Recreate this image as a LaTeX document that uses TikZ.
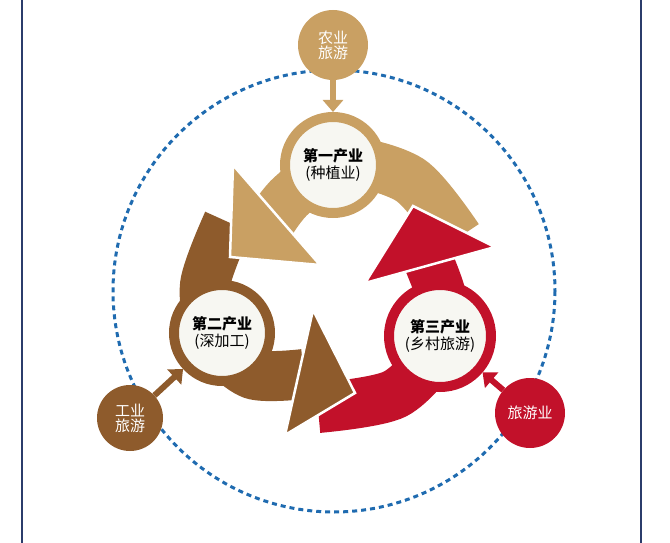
\documentclass[tikz,border=0pt]{standalone}
\usepackage{fontspec}
\setmainfont{Noto Sans CJK SC}
\usetikzlibrary{arrows.meta}
\definecolor{tan}{HTML}{C9A063}
\definecolor{brn}{HTML}{8E5B2C}
\definecolor{rd}{HTML}{C2112A}
\definecolor{dashblue}{HTML}{1F6BB0}
\definecolor{frameblue}{HTML}{2B3C6B}
\definecolor{core}{RGB}{247,247,242}
\begin{document}
\begin{tikzpicture}[x=1pt,y=-1pt,
    big/.style = {draw=#1, circle, line width=10pt, fill=core, text=black, minimum size=96pt, align=center, font=\bfseries\fontsize{15}{18}\selectfont},
    small/.style = {circle, minimum size=70pt, align=center, text=white, font=\fontsize{15}{18}\selectfont},
    band/.style = {line width=50pt},
    head/.style = {draw=white, line width=2.5pt, line join=miter},
    feed/.style = {line width=6pt, -{Triangle[length=12pt,width=20pt]}}]
  \useasboundingbox (0,0) rectangle (670,543);
  \draw[frameblue, line width=2pt] (22,0) -- (22,543);
  \draw[frameblue, line width=2pt] (641,0) -- (641,543);
  \draw[dashblue, line width=3pt, dash pattern=on 5pt off 4pt] (334,291) circle[radius=221];

  % bands
  \draw[band, tan] plot[smooth] coordinates {(458,238) (410,180) (340,162) (292,195) (272,220)};
  \draw[band, brn] plot[smooth] coordinates {(228,222) (205,285) (215,340) (252,374) (304,374)};
  \draw[band, rd] plot[smooth] coordinates {(318,408) (395,394) (440,345) (442,300) (428,260)};
  % heads
  \filldraw[head, fill=tan] (233,165) -- (230,257) -- (320,265) -- cycle;
  \filldraw[head, fill=brn] (313,310) -- (355,393) -- (285,435) -- cycle;
  \filldraw[head, fill=rd] (365,283) -- (413,206) -- (495,247) -- cycle;

  \node[big=tan] (n1) at (333,165) {第一产业\\[-1pt]{\mdseries(种植业)}};
  \node[big=brn] (n2) at (222,333) {第二产业\\[-1pt]{\mdseries(深加工)}};
  \node[big=rd, minimum size=102pt] (n3) at (440,336) {第三产业\\[-1pt]{\mdseries(乡村旅游)}};

  \node[small, fill=tan] (s1) at (333,45) {农业\\[-3pt]旅游};
  \node[small, fill=brn, minimum size=66pt] (s2) at (130,418) {工业\\[-3pt]旅游};
  \node[small, fill=rd] (s3) at (530,413) {旅游业};

  \draw[feed, tan] (s1) -- (n1);
  \draw[feed, brn] (s2) -- (n2);
  \draw[feed, rd] (s3) -- (n3);
\end{tikzpicture}
\end{document}
